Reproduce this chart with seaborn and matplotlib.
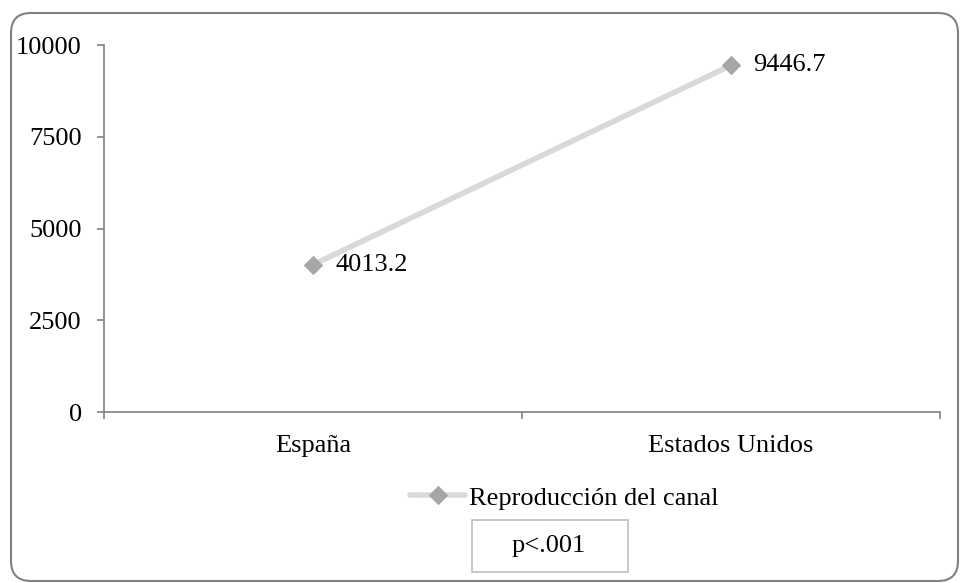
import pandas as pd
import seaborn as sns
import matplotlib.pyplot as plt
from matplotlib.patches import FancyBboxPatch, Rectangle

paises = ["España", "Estados Unidos"]
reproduccion = [4013.2, 9446.7]
serie = "Reproducción del canal"
y_ticks = [0, 2500, 5000, 7500, 10000]

df = pd.DataFrame({"pais": paises, "valor": reproduccion, "serie": serie})

sns.set_style("white")
plt.rcParams["font.family"] = ["Liberation Serif", "DejaVu Serif"]
plt.rcParams["font.size"] = 19
plt.rcParams["text.color"] = "black"
plt.rcParams["xtick.color"] = "black"
plt.rcParams["ytick.color"] = "black"

fig = plt.figure(figsize=(9.6, 5.83), dpi=100)
ax = fig.add_axes([0.1083, 0.2933, 0.8709, 0.6295])

sns.lineplot(data=df, x="pais", y="valor", hue="serie", palette=["#d9d9d9"],
             linewidth=4, marker="D", markersize=9, markerfacecolor="#a6a6a6",
             markeredgecolor="#a6a6a6", ax=ax, legend=True)

# etiquetas de datos
for i, v in enumerate(reproduccion):
    ax.annotate(f"{v:.1f}", (i, v), xytext=(16, 0), textcoords="offset points",
                va="center", ha="left", fontsize=19, color="black")

ax.set_xlim(-0.5, 1.5)
ax.set_ylim(0, 10000)
ax.set_yticks(y_ticks)
ax.set_xticks([0, 1])
ax.set_xticklabels(paises)
ax.set_xticks([-0.5, 0.5, 1.5], minor=True)
ax.tick_params(axis="x", which="major", bottom=False, pad=13, labelsize=19)
ax.tick_params(axis="x", which="minor", bottom=True, length=5, color="#808080",
               width=1.2, direction="out")
ax.tick_params(axis="y", left=True, length=5, color="#808080", width=1.2,
               direction="out", pad=11, labelsize=19)
ax.set_xlabel("")
ax.set_ylabel("")
for s in ["top", "right"]:
    ax.spines[s].set_visible(False)
for s in ["left", "bottom"]:
    ax.spines[s].set_color("#808080")
    ax.spines[s].set_linewidth(1.2)

ax.get_legend().remove()
handles, labels = ax.get_legend_handles_labels()
fig.legend(handles, [serie], loc="center", bbox_to_anchor=(0.588, 0.146),
           frameon=False, fontsize=19, handlelength=2.1, handletextpad=0.15)

# recuadro p-valor
fig.patches.append(Rectangle((0.4917, 0.0189), 0.1625, 0.0892, transform=fig.transFigure,
                             fc="white", ec="#bfbfbf", lw=1.2))
fig.text(0.572, 0.0635, "p<.001", ha="center", va="center", fontsize=19, color="black")

# borde redondeado del gráfico
borde = FancyBboxPatch((0.11, 0.02), 9.47, 5.68,
                       boxstyle="round,pad=0,rounding_size=0.2",
                       transform=fig.dpi_scale_trans, fc="none", ec="#808080", lw=1.5)
fig.patches.append(borde)

fig.savefig("out.png", dpi=100)
